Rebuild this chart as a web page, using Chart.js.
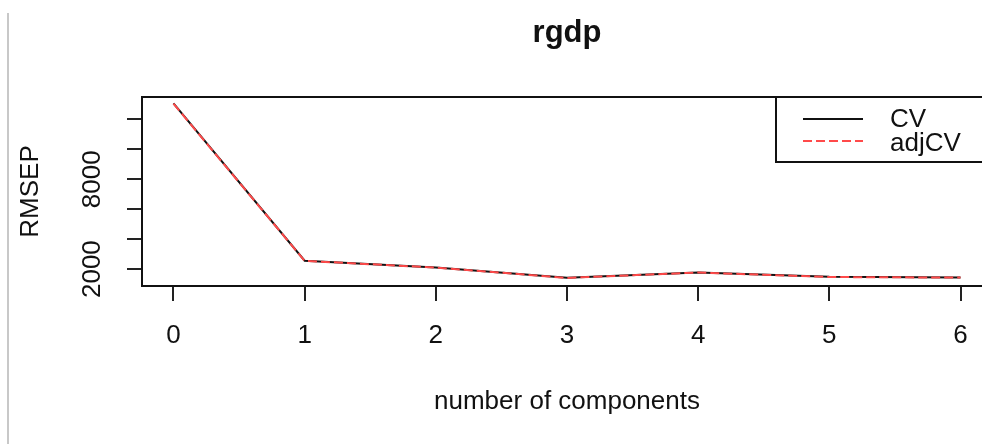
<!DOCTYPE html>
<html>
<head>
<meta charset="utf-8">
<script src="https://cdn.jsdelivr.net/npm/chart.js@4"></script>
<style>
  html, body { margin: 0; padding: 0; background: #fff; overflow: hidden; }
  #wrap { position: relative; width: 982px; height: 444px; overflow: hidden; }
  #page-edge { position: absolute; left: 7px; top: 13px; width: 2px; height: 431px; background: #c8c8c8; }
  canvas { position: absolute; left: 0; top: 0; }
</style>
</head>
<body>
<div id="wrap">
  <canvas id="rmsep-chart" width="1010" height="444"></canvas>
  <div id="page-edge"></div>
</div>
<script>
// data
const components = [0, 1, 2, 3, 4, 5, 6];
const cvValues = [13070, 2560, 2110, 1420, 1780, 1480, 1440];
const adjCvValues = [13050, 2550, 2100, 1410, 1770, 1470, 1430];
const yTickValues = [2000, 4000, 6000, 8000, 10000, 12000];
const yTickLabels = ['2000', '', '', '8000', '', ''];
const seriesNames = ['CV', 'adjCV'];

const font = 'Liberation Sans, Arial, sans-serif';
const ink = '#111';

// box round the plot, like R's box()
const boxPlugin = {
    id: 'box',
    afterDraw(chart) {
        const a = chart.chartArea, ctx = chart.ctx;
        ctx.save();
        ctx.strokeStyle = ink;
        ctx.lineWidth = 2;
        ctx.strokeRect(a.left, a.top, a.right - a.left, a.bottom - a.top);
        ctx.restore();
    }
};

// rotated y labels (R las=0)
const yLabelPlugin = {
    id: 'yLabels',
    afterDraw(chart) {
        const y = chart.scales.y, ctx = chart.ctx;
        ctx.save();
        ctx.fillStyle = ink;
        ctx.font = '26px ' + font;
        ctx.textAlign = 'center';
        ctx.textBaseline = 'alphabetic';
        yTickValues.forEach(function (v, i) {
            if (!yTickLabels[i]) return;
            ctx.save();
            ctx.translate(100, y.getPixelForValue(v));
            ctx.rotate(-Math.PI / 2);
            ctx.fillText(yTickLabels[i], 0, 0);
            ctx.restore();
        });
        ctx.restore();
    }
};

// topright legend with a frame
const legendPlugin = {
    id: 'rLegend',
    afterDraw(chart) {
        const a = chart.chartArea, ctx = chart.ctx;
        const left = a.right - 216, top = a.top;
        ctx.save();
        ctx.fillStyle = '#fff';
        ctx.fillRect(left, top, 240, 65);
        ctx.strokeStyle = ink;
        ctx.lineWidth = 2;
        ctx.strokeRect(left, top, 240, 65);
        ctx.font = '26px ' + font;
        ctx.textBaseline = 'alphabetic';
        chart.data.datasets.forEach(function (ds, i) {
            const ly = top + 22 + i * 22;
            ctx.beginPath();
            ctx.strokeStyle = ds.borderColor;
            ctx.lineWidth = ds.borderWidth;
            ctx.setLineDash(ds.borderDash || []);
            ctx.moveTo(left + 27, ly);
            ctx.lineTo(left + 87, ly);
            ctx.stroke();
            ctx.setLineDash([]);
            ctx.fillStyle = ink;
            ctx.fillText(ds.label, left + 114, ly + 8 + i * 2);
        });
        ctx.restore();
    }
};

const ctx = document.getElementById('rmsep-chart').getContext('2d');
const myChart = new Chart(ctx, {
    type: 'line',
    data: {
        datasets: [{
            label: seriesNames[0],
            data: components.map((c, i) => ({ x: c, y: cvValues[i] })),
            borderColor: '#111',
            borderWidth: 2,
            pointRadius: 0,
            order: 1
        }, {
            label: seriesNames[1],
            data: components.map((c, i) => ({ x: c, y: adjCvValues[i] })),
            borderColor: '#ff4a4a',
            borderWidth: 2,
            borderDash: [9, 4],
            pointRadius: 0,
            order: 0
        }]
    },
    options: {
        responsive: false,
        animation: false,
        layout: { padding: { top: 0, right: 18, bottom: 0, left: 0 } },
        plugins: {
            legend: { display: false },
            tooltip: { enabled: false },
            title: {
                display: true,
                text: 'rgdp',
                fullSize: false,
                color: ink,
                font: { family: font, size: 31, weight: 'bold', lineHeight: 1.2 },
                padding: { top: 14.4, bottom: 45.4 }
            }
        },
        scales: {
            x: {
                type: 'linear',
                min: -0.24,
                max: 6.24,
                afterBuildTicks: function (scale) {
                    scale.ticks = components.map(v => ({ value: v }));
                },
                afterFit: function (scale) { scale.height = 158; },
                grid: { drawOnChartArea: false, drawTicks: true, tickLength: 15, color: '#222', lineWidth: 2 },
                border: { display: false },
                ticks: {
                    color: ink,
                    padding: 19.4,
                    maxRotation: 0,
                    autoSkip: false,
                    font: { family: font, size: 26, lineHeight: 1.2 }
                },
                title: {
                    display: true,
                    text: 'number of components',
                    color: ink,
                    font: { family: font, size: 26, lineHeight: 1.2 },
                    padding: { top: 0, bottom: 26.4 }
                }
            },
            y: {
                min: 870,
                max: 13500,
                afterBuildTicks: function (scale) {
                    scale.ticks = yTickValues.map(v => ({ value: v }));
                },
                afterFit: function (scale) { scale.width = 142; },
                grid: { drawOnChartArea: false, drawTicks: true, tickLength: 15, color: '#222', lineWidth: 2 },
                border: { display: false },
                ticks: { display: false },
                title: {
                    display: true,
                    text: 'RMSEP',
                    color: ink,
                    font: { family: font, size: 26, lineHeight: 1.2 },
                    padding: { top: 15.4, bottom: 0 }
                }
            }
        }
    },
    plugins: [boxPlugin, yLabelPlugin, legendPlugin]
});
</script>
</body>
</html>
